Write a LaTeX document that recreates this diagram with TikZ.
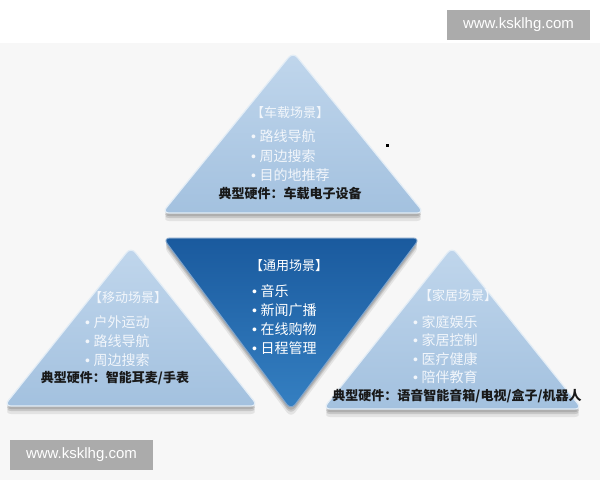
\documentclass[tikz,border=0pt]{standalone}
\usepackage{fontspec}
\setmainfont{Liberation Sans}
\newfontfamily\cjk{Noto Sans CJK SC}
\newfontfamily\bulfont{Liberation Sans}
\newcommand{\bul}{{\bulfont •}\hspace{3.5pt}}
\definecolor{lightA}{HTML}{C0D6EC}
\definecolor{lightB}{HTML}{A3C1DF}
\definecolor{darkA}{HTML}{1A5A9E}
\definecolor{darkB}{HTML}{3580C2}
\definecolor{lighttxt}{HTML}{F2F6FB}
\tikzset{
 lighttri/.style={rounded corners=7pt, top color=lightA, bottom color=lightB, draw=white!55!lightA, line width=1.2pt},
 darktri/.style={rounded corners=7pt, top color=darkA, bottom color=darkB, draw=white!45!darkA, line width=1pt},
 shadowtri/.style={rounded corners=7pt, fill=black, opacity=0.13},
 ttl/.style={font=\cjk\fontsize{13}{15}\selectfont, inner sep=0pt},
 itm/.style={font=\cjk\fontsize{14}{19}\selectfont, anchor=west, inner sep=0pt},
 hw/.style={font=\cjk\bfseries\fontsize{13}{15}\selectfont, text=black!90, inner sep=0pt},
 wm/.style={fill=black!33, text=white, font=\fontsize{15}{18}\selectfont, minimum width=143pt, minimum height=30pt, inner sep=0pt}
}
\begin{document}
\begin{tikzpicture}[x=1pt,y=-1pt]
\useasboundingbox (0,0) rectangle (600,480);
\fill[white] (0,0) rectangle (600,480);
\fill[black!3] (0,43) rectangle (600,480);

% shadows
\foreach \d/\o in {8/0.08,5/0.12,3/0.12}{
 \fill[shadowtri,opacity=\o] (293,52+\d) -- (424,213+\d) -- (162,213+\d) -- cycle;
 \fill[shadowtri,opacity=\o] (131,247+\d) -- (258,406+\d) -- (4,406+\d) -- cycle;
 \fill[shadowtri,opacity=\o] (452,247+\d) -- (582,409+\d) -- (323,409+\d) -- cycle;
 \fill[shadowtri,opacity=\o] (163,238+\d) -- (420,238+\d) -- (291,410+\d) -- cycle;
}

% triangles
\path[lighttri] (293,52) -- (424,213) -- (162,213) -- cycle;
\path[lighttri] (131,247) -- (258,406) -- (4,406) -- cycle;
\path[lighttri] (452,247) -- (582,409) -- (323,409) -- cycle;
\path[darktri] (163,238) -- (420,238) -- (291,410) -- cycle;

% stray dot
\fill[black] (386,144) rectangle (389,147);

% top: vehicle
\node[ttl,text=lighttxt] (t1) at (290,113) {【车载场景】};
\node[itm,text=lighttxt] (t1a) at (251,136) {\bul 路线导航};
\node[itm,text=lighttxt] (t1b) at (251,156) {\bul 周边搜索};
\node[itm,text=lighttxt] (t1c) at (251,175) {\bul 目的地推荐};
\node[hw] (t1h) at (290,194) {典型硬件：车载电子设备};

% left: mobile
\node[ttl,text=lighttxt] (t2) at (128,298) {【移动场景】};
\node[itm,text=lighttxt] (t2a) at (85,322) {\bul 户外运动};
\node[itm,text=lighttxt] (t2b) at (85,341) {\bul 路线导航};
\node[itm,text=lighttxt] (t2c) at (85,360) {\bul 周边搜索};
\node[hw] (t2h) at (115,378) {典型硬件：智能耳麦/手表};

% center: general
\node[ttl,text=white] (t3) at (289,266) {【通用场景】};
\node[itm,text=white] (t3a) at (252,291) {\bul 音乐};
\node[itm,text=white] (t3b) at (252,310) {\bul 新闻广播};
\node[itm,text=white] (t3c) at (252,329) {\bul 在线购物};
\node[itm,text=white] (t3d) at (252,348) {\bul 日程管理};

% right: home
\node[ttl,text=lighttxt] (t4) at (458,296) {【家居场景】};
\node[itm,text=lighttxt] (t4a) at (413,322) {\bul 家庭娱乐};
\node[itm,text=lighttxt] (t4b) at (413,340) {\bul 家居控制};
\node[itm,text=lighttxt] (t4c) at (413,359) {\bul 医疗健康};
\node[itm,text=lighttxt] (t4d) at (413,377) {\bul 陪伴教育};
\node[hw] (t4h) at (457,396) {典型硬件：语音智能音箱/电视/盒子/机器人};

% watermarks
\node[wm] (w1) at (518.5,24.5) {www.ksklhg.com};
\node[wm] (w2) at (81.5,454.5) {www.ksklhg.com};
\end{tikzpicture}
\end{document}
